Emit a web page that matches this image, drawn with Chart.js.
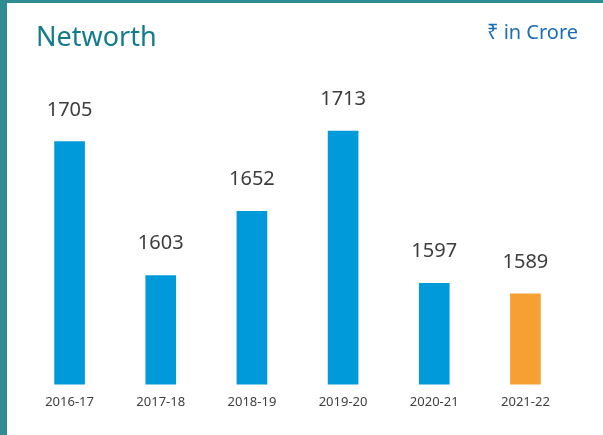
<!DOCTYPE html>
<html>
<head>
<meta charset="utf-8">
<script src="https://cdn.jsdelivr.net/npm/chart.js@4"></script>
<style>
  html, body { margin: 0; padding: 0; background: #fff; }
  #cadre { position: relative; width: 603px; height: 435px; overflow: hidden; font-family: "Noto Sans", sans-serif; }
  #bord-gauche { position: absolute; left: 0; top: 0; width: 7px; height: 435px; background: #2f8c93; }
  #bord-haut { position: absolute; left: 0; top: 0; width: 603px; height: 3px; background: #2f8c93; }
  #titre { position: absolute; left: 36px; top: 22px; font-size: 27px; line-height: 28px; color: #137c8b; white-space: nowrap; }
  #unite { position: absolute; left: 487px; top: 22px; font-size: 20px; line-height: 20px; color: #1a6db6; white-space: nowrap; }
  canvas { position: absolute; left: 0; top: 0; }
</style>
</head>
<body>
<div id="cadre">
  <canvas id="graphe" width="603" height="435"></canvas>
  <div id="bord-gauche"></div>
  <div id="bord-haut"></div>
  <div id="titre">Networth</div>
  <div id="unite">₹ in Crore</div>
</div>
<script>
// données
const annees = ['2016-17', '2017-18', '2018-19', '2019-20', '2020-21', '2021-22'];
const valeurs = [1705, 1603, 1652, 1713, 1597, 1589];
const couleurs = ['#0099da', '#0099da', '#0099da', '#0099da', '#0099da', '#f6a033'];
const axeMin = 1520;
const axeMax = 1752;

// étiquettes de valeur au-dessus des barres
const etiquettes = {
    id: 'etiquettes',
    afterDatasetsDraw(chart) {
        const ctx = chart.ctx;
        const meta = chart.getDatasetMeta(0);
        ctx.save();
        ctx.font = '20px "Noto Sans"';
        ctx.fillStyle = '#3d3d3d';
        ctx.textAlign = 'center';
        ctx.textBaseline = 'alphabetic';
        meta.data.forEach((barre, i) => {
            ctx.fillText(String(valeurs[i]), barre.x, barre.y - 26);
        });
        ctx.restore();
    }
};

new Chart(document.getElementById('graphe').getContext('2d'), {
    type: 'bar',
    data: {
        labels: annees,
        datasets: [{
            data: valeurs,
            backgroundColor: couleurs,
            barThickness: 30,
            borderWidth: 0
        }]
    },
    options: {
        responsive: false,
        animation: false,
        layout: { padding: { left: 24, right: 32, top: 80, bottom: 15 } },
        scales: {
            x: {
                grid: { display: false, drawTicks: false },
                border: { display: false },
                ticks: { color: '#404040', padding: 10, font: { family: 'Noto Sans', size: 13 } }
            },
            y: {
                display: false,
                min: axeMin,
                max: axeMax
            }
        },
        plugins: {
            legend: { display: false },
            tooltip: { enabled: false }
        }
    },
    plugins: [etiquettes]
});
</script>
</body>
</html>
